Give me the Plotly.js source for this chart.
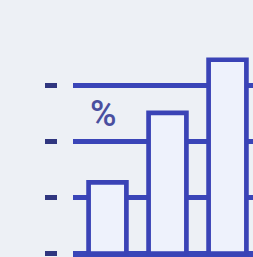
<!DOCTYPE html>
<html>
<head>
<meta charset="utf-8">
<script src="https://cdn.plot.ly/plotly-3.0.1.min.js"></script>
<style>html,body{margin:0;padding:0;background:#edf0f5;}#chart{width:253px;height:257px;}</style>
</head>
<body>
<div id="chart"></div>
<script>
const categories = ["A", "B", "C"];
const values = [12.7, 25.1, 34.6];
const tickValues = [0, 10, 20, 30];
const markLabel = "%";

const trace = {
  type: "bar",
  x: [0, 1, 2],
  y: values,
  text: categories,
  textposition: "none",
  hoverinfo: "none",
  width: 0.63,
  marker: {color: "#eef2fc", line: {color: "#3a43b6", width: 4.7}}
};

const layout = {
  width: 253, height: 257,
  margin: {l: 0, r: 0, t: 0, b: 0},
  paper_bgcolor: "#edf0f5",
  plot_bgcolor: "#edf0f5",
  showlegend: false,
  xaxis: {
    domain: [0.2885, 1],
    range: [-0.575, 2.425],
    showgrid: false, zeroline: false, showticklabels: false, ticks: "",
    fixedrange: true
  },
  yaxis: {
    range: [-0.625, 45.27],
    anchor: "free", position: 0.227,
    tickvals: tickValues,
    showticklabels: false,
    ticks: "outside", ticklen: 12.5, tickwidth: 4.7, tickcolor: "#30367f",
    showgrid: true, gridcolor: "#3a45b8", gridwidth: 4.7,
    zeroline: true, zerolinecolor: "#3a45b8", zerolinewidth: 6,
    showline: false, fixedrange: true
  },
  annotations: [{
    xref: "paper", yref: "paper",
    x: 103.5 / 253, y: 1 - 113.5 / 257,
    text: markLabel, showarrow: false,
    font: {family: "Roboto", size: 36, weight: 500, color: "#4a4f9f"},
    xanchor: "center", yanchor: "middle"
  }]
};

Plotly.newPlot("chart", [trace], layout, {displayModeBar: false, staticPlot: true});
</script>
</body>
</html>
